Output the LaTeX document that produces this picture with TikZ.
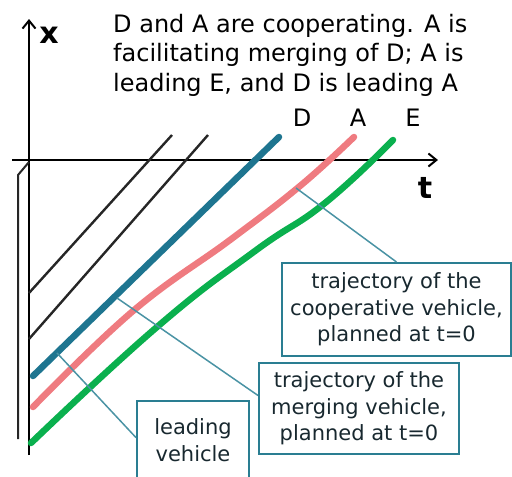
\documentclass[tikz,border=0pt]{standalone}
\usepackage{fontspec}
\setmainfont{DejaVu Sans}
\usetikzlibrary{arrows.meta,calc}
\definecolor{tealD}{HTML}{1E7590}
\definecolor{pinkA}{HTML}{EF7B80}
\definecolor{greenE}{HTML}{0AB04E}
\definecolor{boxc}{HTML}{2A7E92}
\definecolor{callc}{HTML}{4A93A4}
\definecolor{txtc}{HTML}{18282F}
\begin{document}
\begin{tikzpicture}[x=1pt,y=-1pt,
  axisline/.style={line width=2.2pt,black,-{Straight Barb[length=8pt,width=13pt,line width=2pt]}},
  blackline/.style={line width=2.4pt,black!85},
  traj/.style={line width=6.5pt,line cap=round,line join=round},
  callbox/.style={draw=boxc,line width=2pt,text=txtc,font=\fontsize{21}{26.5}\selectfont,align=center,inner sep=0pt},
  callout/.style={callc,line width=1.5pt},
  lbl/.style={font=\fontsize{24}{28}\selectfont,inner sep=0pt},
  axlbl/.style={font=\bfseries\fontsize{30}{32}\selectfont,inner sep=0pt}
]
\useasboundingbox (0,0) rectangle (512,477);
% axes
\coordinate (xtop) at (29,19);
\coordinate (xbot) at (29,455);
\coordinate (tleft) at (12,160);
\coordinate (tright) at (438,160);
\coordinate (s1) at (18,439);
\coordinate (s2) at (18,175);
\coordinate (s3) at (29,162);
\draw[axisline] (xbot) -- (xtop);
\draw[axisline] (tleft) -- (tright);
\draw[line width=2pt,black!85] (s1) -- (s2) -- (s3);
% black trajectories
\coordinate (k1a) at (29,293);
\coordinate (k1b) at (172,135);
\coordinate (k2a) at (29,339);
\coordinate (k2b) at (208,135);
\draw[blackline] (k1a) -- (k1b);
\draw[blackline] (k2a) -- (k2b);
% vehicle trajectories
\coordinate (d1) at (33,376);
\coordinate (d2) at (279,137);
\draw[traj,tealD] (d1) -- (d2);
\draw[traj,pinkA] plot[smooth,tension=0.7] coordinates {(33,407) (133,311) (230,240) (300,186) (354,137)};
\draw[traj,greenE] plot[smooth,tension=0.8] coordinates {(31,443) (157,327) (255,251) (325,203) (393,140)};
% labels
\node[axlbl] (xl) at (49,35) {x};
\node[axlbl] (tl) at (425,188) {t};
\node[lbl] (Dl) at (302,118) {D};
\node[lbl] (Al) at (358,118) {A};
\node[lbl] (El) at (413,118) {E};
\node[anchor=base west,font=\fontsize{24}{29.5}\selectfont,align=left,inner sep=0pt] (title) at (113,91)
  {D and A are cooperating. A is\\facilitating merging of D; A is\\leading E, and D is leading A};
% boxes
\node[callbox,minimum width=229pt,minimum height=93pt] (b1) at (396.5,309.5) {trajectory of the\\cooperative vehicle,\\planned at t=0};
\node[callbox,minimum width=200pt,minimum height=91pt] (b2) at (359,408.5) {trajectory of the\\merging vehicle,\\planned at t=0};
\node[callbox,minimum width=112pt,minimum height=78pt] (b3) at (193,440) {leading\\vehicle};
% callouts
\coordinate (pA) at (296,188);
\coordinate (pD1) at (117,298);
\coordinate (pD2) at (57,353);
\draw[callout] (pA) -- (b1.north);
\draw[callout] (pD1) -- ($(b2.north west)!0.36!(b2.south west)$);
\draw[callout] (pD2) -- ($(b3.north west)!0.47!(b3.south west)$);
\end{tikzpicture}
\end{document}
